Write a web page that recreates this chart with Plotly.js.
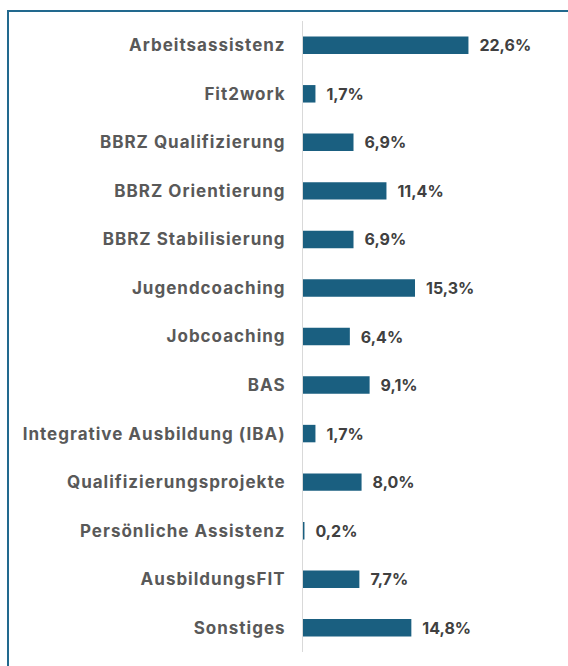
<!DOCTYPE html>
<html>
<head>
<meta charset="utf-8">
<script src="https://cdn.plot.ly/plotly-3.0.1.min.js"></script>
<style>
  html, body { margin: 0; padding: 0; background: #fff; }
  #frame { position: absolute; left: 7px; top: 10px; width: 600px; height: 700px;
           border-left: 2px solid #22698E; border-top: 2px solid #22698E; }
  #chart { position: absolute; left: 0; top: 0; width: 568px; height: 666px; }
  #chart .ytick text { letter-spacing: 1px; }
</style>
</head>
<body>
<div id="frame"></div>
<div id="chart"></div>
<script>
const categories = [
  "Arbeitsassistenz",
  "Fit2work",
  "BBRZ Qualifizierung",
  "BBRZ Orientierung",
  "BBRZ Stabilisierung",
  "Jugendcoaching",
  "Jobcoaching",
  "BAS",
  "Integrative Ausbildung (IBA)",
  "Qualifizierungsprojekte",
  "Persönliche Assistenz",
  "AusbildungsFIT",
  "Sonstiges"
];
const values = [22.6, 1.7, 6.9, 11.4, 6.9, 15.3, 6.4, 9.1, 1.7, 8.0, 0.2, 7.7, 14.8];

const trace = {
  type: 'bar',
  orientation: 'h',
  y: categories,
  x: values,
  marker: { color: '#1A5F80' },
  width: 0.36,
  texttemplate: '\u2002%{x:.1f}%',
  textposition: 'outside',
  constraintext: 'none',
  cliponaxis: false,
  textfont: { family: 'Inter, sans-serif', size: 16, color: '#404040', weight: 'bold' },
  hoverinfo: 'none'
};

const layout = {
  width: 568, height: 666,
  margin: { l: 303, r: 15, t: 21, b: 14 },
  paper_bgcolor: 'rgba(0,0,0,0)',
  plot_bgcolor: 'rgba(0,0,0,0)',
  separators: ',.',
  showlegend: false,
  xaxis: { range: [0, 34.15], visible: false, fixedrange: true },
  yaxis: {
    autorange: 'reversed',
    showline: true, linecolor: '#D9D9D9', linewidth: 1,
    ticks: '', showgrid: false, zeroline: false,
    ticklabelstandoff: 13,
    tickfont: { family: 'Inter, sans-serif', size: 17, color: '#595959', weight: 'bold' }
  }
};

Plotly.newPlot('chart', [trace], layout, { staticPlot: true, displayModeBar: false });
</script>
</body>
</html>
